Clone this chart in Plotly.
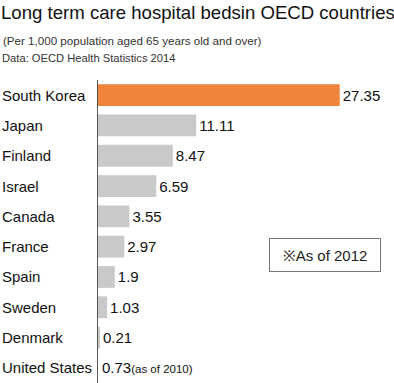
import plotly.graph_objects as go

countries = ["South Korea", "Japan", "Finland", "Israel", "Canada", "France",
             "Spain", "Sweden", "Denmark", "United States"]
values = [27.35, 11.11, 8.47, 6.59, 3.55, 2.97, 1.9, 1.03, 0.21, 0.73]
value_labels = ["27.35", "11.11", "8.47", "6.59", "3.55", "2.97", "1.9", "1.03",
                "0.21", "0.73"]
us_note = "(as of 2010)"
title = "Long term care hospital bedsin OECD countries"
subtitle1 = "(Per 1,000 population aged 65 years old and over)"
subtitle2 = "Data: OECD Health Statistics 2014"
note = "※As of 2012"

colors = ["#F0843A"] + ["#C9C9C9"] * 8 + ["rgba(0,0,0,0)"]
bar_texts = value_labels[:-1] + [""]

FONT = "Liberation Sans"

fig = go.Figure()
fig.add_trace(go.Bar(
    x=values, y=countries, orientation="h",
    marker=dict(color=colors, line=dict(width=0)),
    width=0.72,
    text=bar_texts, textposition="outside", cliponaxis=False,
    textfont=dict(family=FONT, size=15, color="#111111"),
    hoverinfo="skip",
))

# United States label sits at the axis (no visible bar in the original)
fig.add_annotation(x=0, y=countries[-1], xref="x", yref="y",
                   text=value_labels[-1] + "<span style='font-size:11.5px'>" + us_note + "</span>",
                   showarrow=False, xanchor="left", xshift=2, yanchor="middle",
                   font=dict(family=FONT, size=15, color="#111111"))

for c in countries:
    fig.add_annotation(x=0, y=c, xref="x", yref="y", text=c, showarrow=False,
                       xanchor="left", xshift=-98, yanchor="middle",
                       font=dict(family=FONT, size=15, color="#111111"))

fig.add_annotation(x=0, y=1, xref="paper", yref="paper", xshift=-99, yshift=68,
                   text=title, showarrow=False, xanchor="left", yanchor="middle",
                   font=dict(family=FONT, size=18.6, color="#111111"))
fig.add_annotation(x=0, y=1, xref="paper", yref="paper", xshift=-97, yshift=40,
                   text=subtitle1, showarrow=False, xanchor="left", yanchor="middle",
                   font=dict(family=FONT, size=11.6, color="#333333"))
fig.add_annotation(x=0, y=1, xref="paper", yref="paper", xshift=-98, yshift=22,
                   text=subtitle2, showarrow=False, xanchor="left", yanchor="middle",
                   font=dict(family=FONT, size=11.2, color="#333333"))
fig.add_annotation(x=0.854, y=0.422, xref="paper", yref="paper",
                   text=note, showarrow=False, xanchor="center", yanchor="middle",
                   font=dict(family=FONT, size=15, color="#222222"),
                   bordercolor="#777777", borderwidth=1, borderpad=7,
                   width=96, height=18)

fig.update_layout(
    width=394, height=383,
    margin=dict(l=98, r=30, t=80, b=0),
    paper_bgcolor="white", plot_bgcolor="white",
    showlegend=False,
    xaxis=dict(range=[0, 30.1], visible=False, fixedrange=True),
    yaxis=dict(autorange="reversed", showticklabels=False, ticks="",
               showline=True, linecolor="#555555", linewidth=1,
               showgrid=False, zeroline=False, fixedrange=True),
)

fig.write_html("out.html", config={"displayModeBar": False},
               post_script="document.body.style.margin='0';")
